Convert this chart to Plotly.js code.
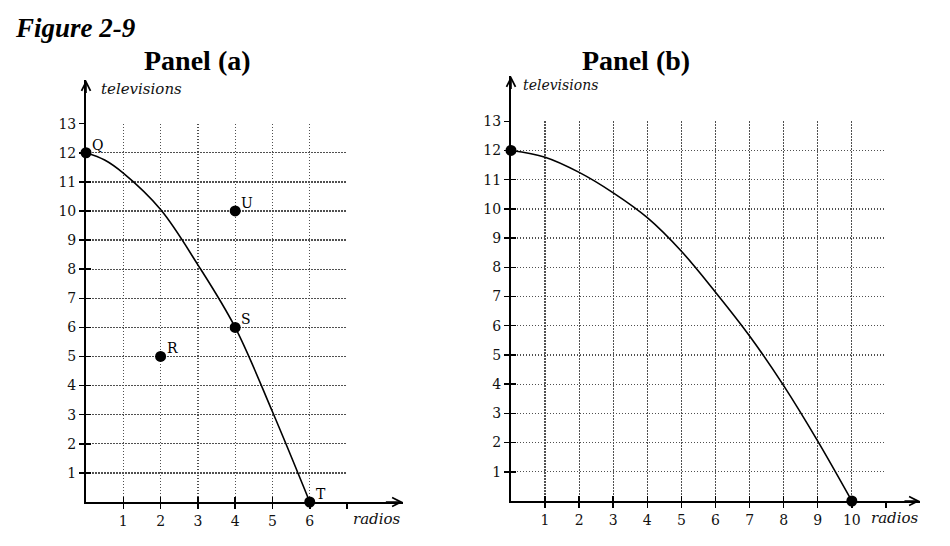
<!DOCTYPE html>
<html><head><meta charset="utf-8">
<script src="https://cdn.plot.ly/plotly-3.0.1.min.js"></script>
<style>html,body{margin:0;padding:0;background:#fff}#chart{width:950px;height:546px}</style>
</head><body><div id="chart"></div>
<script>
// ---------- Panel (a) data ----------
const aCurveRadios = [0, 0.5, 1, 2, 3, 4, 5, 6];
const aCurveTelevisions = [12, 11.75, 11.3, 10.05, 8.15, 6, 3.1, 0];
const aPointLabels = ['Q', 'R', 'S', 'T', 'U'];
const aPointRadios = [0, 2, 4, 6, 4];
const aPointTelevisions = [12, 5, 6, 0, 10];
const aXTicks = [1, 2, 3, 4, 5, 6, 7];
const aXTickText = ['1', '2', '3', '4', '5', '6', ''];

// ---------- Panel (b) data ----------
const bCurveRadios = [0, 1, 2, 3, 4, 5, 6, 7, 8, 9, 10];
const bCurveTelevisions = [12, 11.77, 11.25, 10.55, 9.7, 8.55, 7.15, 5.65, 3.95, 2.05, 0];
const bPointRadios = [0, 10];
const bPointTelevisions = [12, 0];
const bXTicks = [1, 2, 3, 4, 5, 6, 7, 8, 9, 10, 11];
const bXTickText = ['1', '2', '3', '4', '5', '6', '7', '8', '9', '10', ''];

// ---------- shared y ticks ----------
const yTicks = [1, 2, 3, 4, 5, 6, 7, 8, 9, 10, 11, 12, 13];
const yTickText = ['1', '2', '3', '4', '5', '6', '7', '8', '9', '10', '11', '12', '13'];

const serif = 'DejaVu Serif, serif';
const timesFont = 'Liberation Serif, Times New Roman, serif';
const tickFont = {family: serif, size: 14, color: '#111'};

function gridAxis(domain, range, vals, anchor) {
  return {
    domain: domain, range: range, anchor: anchor, tickvals: vals, ticks: 'inside', ticklen: 5,
    tickwidth: 1.5, tickcolor: '#000', showticklabels: false,
    showgrid: true, gridcolor: '#505050', griddash: '1.5px,1.5px', gridwidth: 1.3,
    zeroline: false, showline: false, fixedrange: true
  };
}
function mainAxis(domain, range, vals, text, anchor) {
  return {
    domain: domain, range: range, anchor: anchor, tickvals: vals, ticktext: text,
    ticks: 'outside', ticklen: 5, tickwidth: 1.5, tickcolor: '#000',
    tickfont: tickFont, showgrid: false, zeroline: false,
    showline: true, linecolor: '#000', linewidth: 2, fixedrange: true
  };
}

const traces = [
  // invisible anchors so the grid subplots are built
  {x: [0], y: [0], xaxis: 'x', yaxis: 'y', mode: 'markers', marker: {opacity: 0}, hoverinfo: 'skip'},
  {x: [0], y: [0], xaxis: 'x2', yaxis: 'y2', mode: 'markers', marker: {opacity: 0}, hoverinfo: 'skip'},
  {x: aCurveRadios, y: aCurveTelevisions, xaxis: 'x3', yaxis: 'y3', mode: 'lines',
   line: {color: '#000', width: 1.6, shape: 'spline', smoothing: 1}, cliponaxis: false, hoverinfo: 'skip'},
  {x: aPointRadios, y: aPointTelevisions, xaxis: 'x3', yaxis: 'y3', mode: 'markers',
   marker: {color: '#000', size: 11}, cliponaxis: false},
  {x: bCurveRadios, y: bCurveTelevisions, xaxis: 'x4', yaxis: 'y4', mode: 'lines',
   line: {color: '#000', width: 1.6, shape: 'spline', smoothing: 1}, cliponaxis: false, hoverinfo: 'skip'},
  {x: bPointRadios, y: bPointTelevisions, xaxis: 'x4', yaxis: 'y4', mode: 'markers',
   marker: {color: '#000', size: 11}, cliponaxis: false}
];

function arrow(xr, yr, x, y, ax, ay) {
  return {xref: xr, yref: yr, axref: xr, ayref: yr, x: x, y: y, ax: ax, ay: ay,
          text: '', showarrow: true, arrowhead: 5, arrowsize: 1.1, arrowwidth: 1.6, arrowcolor: '#000'};
}
const italicLabel = {family: serif, size: 15, color: '#111', style: 'italic'};

const pointLabels = aPointLabels.map((t, i) => ({
  xref: 'x3', yref: 'y3', x: aPointRadios[i], y: aPointTelevisions[i], text: t,
  showarrow: false, xanchor: 'left', yanchor: 'bottom', xshift: 4, yshift: -2,
  font: {family: serif, size: 14, color: '#000'}
}));

const layout = {
  width: 950, height: 546, margin: {l: 0, r: 0, t: 0, b: 0},
  paper_bgcolor: '#fff', plot_bgcolor: 'rgba(0,0,0,0)', showlegend: false,
  xaxis:  gridAxis([0.09053, 0.36533], [0, 7], aXTicks, 'y'),
  yaxis:  gridAxis([0.08059, 0.77344], [0, 13], yTicks, 'x'),
  xaxis2: gridAxis([0.53789, 0.93253], [0, 11], bXTicks, 'y2'),
  yaxis2: gridAxis([0.08242, 0.77784], [0, 13], yTicks, 'x2'),
  xaxis3: mainAxis([0.09053, 0.42421], [0, 8.5], aXTicks, aXTickText, 'y3'),
  yaxis3: mainAxis([0.08059, 0.85348], [0, 14.5], yTicks, yTickText, 'x3'),
  xaxis4: mainAxis([0.53789, 0.96842], [0, 12], bXTicks, bXTickText, 'y4'),
  yaxis4: mainAxis([0.08242, 0.86081], [0, 14.55], yTicks, yTickText, 'x4'),
  annotations: [
    {xref: 'paper', yref: 'paper', x: 0.0137, y: 0.948, xanchor: 'left', yanchor: 'middle',
     text: '<b><i>Figure 2-9</i></b>', showarrow: false,
     font: {family: timesFont, size: 27, color: '#000'}},
    {xref: 'paper', yref: 'paper', x: 0.2074, y: 0.890, xanchor: 'center', yanchor: 'middle',
     text: '<b>Panel (a)</b>', showarrow: false,
     font: {family: timesFont, size: 28, color: '#000'}},
    {xref: 'paper', yref: 'paper', x: 0.6695, y: 0.890, xanchor: 'center', yanchor: 'middle',
     text: '<b>Panel (b)</b>', showarrow: false,
     font: {family: timesFont, size: 28, color: '#000'}},
    {xref: 'paper', yref: 'paper', x: 0.104, y: 0.837, xanchor: 'left', yanchor: 'middle',
     text: 'televisions', showarrow: false, font: italicLabel},
    {xref: 'paper', yref: 'paper', x: 0.397, y: 0.0495, xanchor: 'center', yanchor: 'middle',
     text: 'radios', showarrow: false, font: italicLabel},
    {xref: 'paper', yref: 'paper', x: 0.548, y: 0.844, xanchor: 'left', yanchor: 'middle',
     text: 'televisions', showarrow: false, font: {family: serif, size: 14, color: '#111', style: 'italic'}},
    {xref: 'paper', yref: 'paper', x: 0.9426, y: 0.0513, xanchor: 'center', yanchor: 'middle',
     text: 'radios', showarrow: false, font: italicLabel},
    arrow('x3', 'y3', 8.5, 0, 8.0, 0),
    arrow('x3', 'y3', 0, 14.5, 0, 14.0),
    arrow('x4', 'y4', 12, 0, 11.5, 0),
    arrow('x4', 'y4', 0, 14.55, 0, 14.05)
  ].concat(pointLabels)
};

Plotly.newPlot('chart', traces, layout, {displayModeBar: false, staticPlot: true});
</script></body></html>
